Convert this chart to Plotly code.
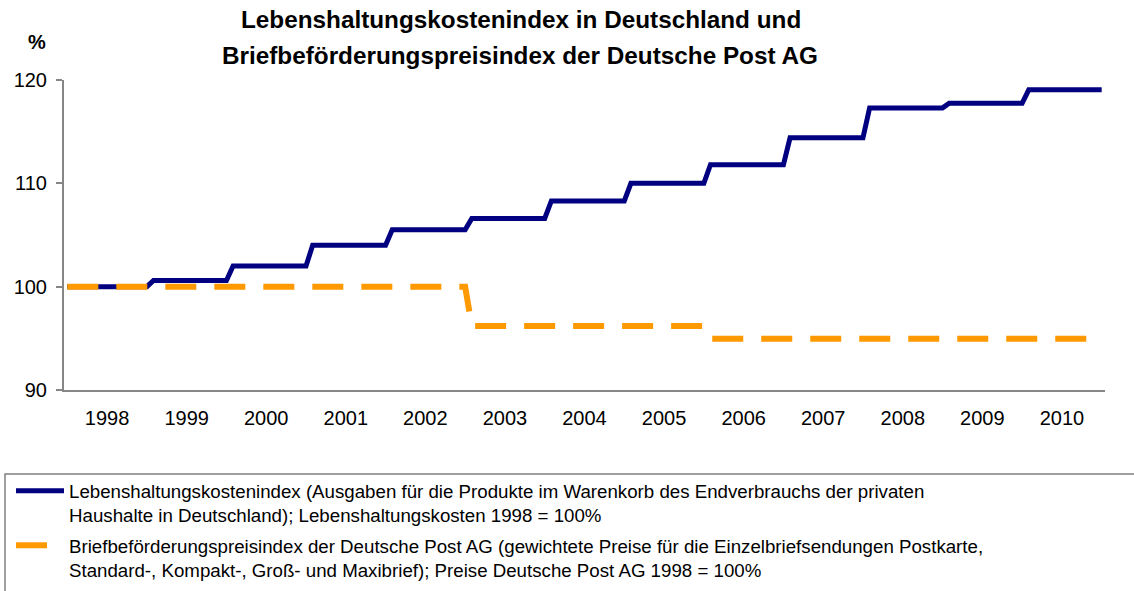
import plotly.graph_objects as go

# ---- data (annual index levels, 1998 = 100) ----
years = [1998, 1999, 2000, 2001, 2002, 2003, 2004, 2005, 2006, 2007, 2008, 2009, 2010]
cost_index = [100.0, 100.6, 102.0, 104.0, 105.5, 106.6, 108.3, 110.0, 111.8, 114.4, 117.3, 117.75, 119.05]
post_index = [100.0, 100.0, 100.0, 100.0, 100.0, 96.2, 96.2, 96.2, 94.95, 94.95, 94.95, 94.95, 94.95]
y_ticks = [90, 100, 110, 120]

name_cost = ("Lebenshaltungskostenindex (Ausgaben für die Produkte im Warenkorb des Endverbrauchs der privaten<br>"
             "Haushalte in Deutschland); Lebenshaltungskosten 1998 = 100%")
name_post = ("Briefbeförderungspreisindex der Deutsche Post AG (gewichtete Preise für die Einzelbriefsendungen Postkarte,<br>"
             "Standard-, Kompakt-, Groß- und Maxibrief); Preise Deutsche Post AG 1998 = 100%")
title_line1 = "Lebenshaltungskostenindex in Deutschland und"
title_line2 = "Briefbeförderungspreisindex der Deutsche Post AG"

# monthly step series (Jan 1998 .. Jan 2011), level changes each February
n_months = len(years) * 12 + 1
mx = list(range(n_months))
def monthly(levels):
    return [levels[max(0, (i - 1) // 12)] for i in mx]

FONT = "Liberation Sans, Arial, sans-serif"
AX = "#868686"

fig = go.Figure()
fig.add_trace(go.Scatter(x=mx, y=monthly(cost_index), mode="lines", name=name_cost,
                         legendgroup="a",
                         line=dict(color="#000080", width=5)))
fig.add_trace(go.Scatter(x=mx, y=monthly(post_index), mode="lines", name=name_post,
                         legendgroup="b",
                         line=dict(color="#FF9900", width=6, dash="31px,18px")))

W, H = 1134, 591
L, R, T, B = 64, 29, 80, 201
pw, ph = W - L - R, H - T - B
def px(x):
    return (x - L) / pw
def py(y):
    return (H - B - y) / ph

fig.update_layout(
    width=W, height=H,
    margin=dict(l=L, r=R, t=T, b=B, autoexpand=False),
    paper_bgcolor="white", plot_bgcolor="white",
    font=dict(family=FONT, color="black", size=20),
    xaxis=dict(range=[-0.5, n_months - 0.5], tickmode="array",
               tickvals=[6 + 12 * k for k in range(len(years))],
               ticktext=[str(y) for y in years], ticks="", showgrid=False,
               zeroline=False, showline=True, linecolor=AX, linewidth=2,
               tickfont=dict(size=20), ticklabelstandoff=9),
    yaxis=dict(range=[90, 120], tickvals=y_ticks, ticks="outside", ticklen=6,
               tickcolor=AX, tickwidth=1.5, showgrid=False, zeroline=False,
               showline=True, linecolor=AX, linewidth=2,
               tickfont=dict(size=20), ticklabelstandoff=5),
    showlegend=True,
    legend=dict(x=px(11), y=py(472), xanchor="left", yanchor="top",
                font=dict(family=FONT, size=18.7, color="black"),
                valign="top", itemwidth=48, bgcolor="rgba(0,0,0,0)",
                borderwidth=0, traceorder="grouped", tracegroupgap=3),
    shapes=[dict(type="rect", xref="paper", yref="paper",
                 x0=px(5), x1=px(1140), y0=py(474), y1=py(600),
                 line=dict(color="#808080", width=1.5), fillcolor="rgba(0,0,0,0)",
                 layer="below")],
    annotations=[
        dict(text="<b>%</b>", xref="paper", yref="paper",
             x=px(37), y=py(42), xanchor="center", yanchor="middle",
             showarrow=False, font=dict(family=FONT, size=20, color="black")),
        dict(text="<b>" + title_line1 + "</b>", xref="paper", yref="paper",
             x=px(521), y=py(19), xanchor="center", yanchor="middle",
             showarrow=False, font=dict(family=FONT, size=24.3, color="black")),
        dict(text="<b>" + title_line2 + "</b>", xref="paper", yref="paper",
             x=px(520), y=py(55), xanchor="center", yanchor="middle",
             showarrow=False, font=dict(family=FONT, size=24.3, color="black")),
    ],
)

fig.write_html("out.html", config={"displayModeBar": False},
               post_script="document.body.style.margin='0px';document.body.style.overflow='hidden';")
